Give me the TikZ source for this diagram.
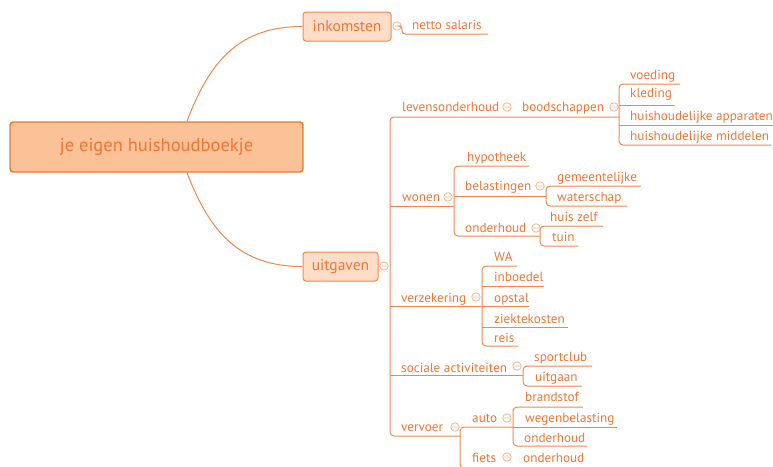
\documentclass[tikz,border=0pt]{standalone}
\usepackage{fontspec}
\setmainfont{PT Sans}
\usetikzlibrary{calc}
\definecolor{textc}{HTML}{EF7634}
\definecolor{linec}{HTML}{F3874A}
\definecolor{cfill}{HTML}{FBC197}
\definecolor{cborder}{HTML}{F0782F}
\definecolor{bfill}{HTML}{FEDDC8}
\definecolor{bborder}{HTML}{F28A4C}
\definecolor{collc}{HTML}{F6B995}
\newcommand\coll[2]{\draw[collc, line width=0.9pt] (#1,#2) circle (4.2) ++(-2.8,0) -- ++(5.6,0);}
\begin{document}
\begin{tikzpicture}[x=1pt, y=-1pt,
  lbl/.style={anchor=base west, inner sep=0pt, text=textc, font=\fontsize{13.2}{16}\selectfont},
  conn/.style={draw=linec, line width=1pt, rounded corners=4pt},
  topicbox/.style={draw=bborder, fill=bfill, line width=1pt, rounded corners=3pt, text=textc, font=\fontsize{15.5}{18}\selectfont, inner sep=0pt},
  rootbox/.style={draw=cborder, fill=cfill, line width=1.4pt, rounded corners=3pt, text=textc, font=\fontsize{18.5}{21}\selectfont, inner sep=0pt}]
\useasboundingbox (0,0) rectangle (773,466);
\clip (0,0) rectangle (773,466);
% main topics
\node[rootbox, minimum width=293pt, minimum height=50pt] (root) at (156.5,147) {je eigen huishoudboekje};
\node[topicbox, minimum width=88pt, minimum height=29pt] (ink) at (347,26.5) {inkomsten};
\node[topicbox, minimum width=75pt, minimum height=29pt] (uit) at (340.5,266.5) {uitgaven};
\draw[linec, line width=1pt] ($(root.north)+(30.5,0)$) .. controls (210,60) and (240,26.5) .. (ink.west);
\draw[linec, line width=1pt] ($(root.south)+(30.5,0)$) .. controls (210,233) and (240,266.5) .. (uit.west);
\coll{397}{26}
\coll{384}{266}
% inkomsten
\node[lbl] (netto) at (412,29.5) {netto salaris};
\coordinate (nettoend) at (488,34);
\draw[conn, rounded corners=3pt] (401,26) -- (402,26) |- (nettoend);
% main trunk
\draw[conn] (619,117) -- (390,117) -- (390,436) -- (460,436);
% levensonderhoud
\node[lbl] (lev) at (402,111) {levensonderhoud};
\coll{507}{107}
\node[lbl] (bood) at (522,111) {boodschappen};
\coll{614}{107}
\node[lbl] (voed) at (630,79) {voeding};
\node[lbl] (kled) at (630,97.5) {kleding};
\node[lbl] (app) at (630,120) {huishoudelijke apparaten};
\node[lbl] (mid) at (630,140) {huishoudelijke middelen};
\draw[conn] (680,84) -- (619,84) -- (619,145) -- (771,145);
\draw[conn] (619,105) -- (675,105);
\draw[conn] (619,125) -- (780,125);
% wonen
\node[lbl] (won) at (402,201) {wonen};
\coll{448}{197}
\draw[conn] (390,206) -- (454,206);
\draw[conn] (529,166) -- (454,166) -- (454,236) -- (540,236);
\node[lbl] (hyp) at (467,161) {hypotheek};
\node[lbl] (bel) at (465,190.5) {belastingen};
\coll{540}{186}
\draw[conn] (454,196) -- (546,196);
\draw[conn] (641,186) -- (546,186) -- (546,206) -- (627,206);
\node[lbl] (gem) at (557,181) {gemeentelijke};
\node[lbl] (wat) at (557,201) {waterschap};
\node[lbl] (ond) at (465,232) {onderhoud};
\coll{536}{228}
\draw[conn] (603,226) -- (540,226) -- (540,246) -- (578,246);
\node[lbl] (huis) at (550,221) {huis zelf};
\node[lbl] (tuin) at (552,241) {tuin};
% verzekering
\node[lbl] (ver) at (401,302) {verzekering};
\coll{476}{297}
\draw[conn] (390,306) -- (529,306);
\draw[conn] (517,266) -- (482,266) -- (482,346) -- (518,346);
\draw[conn] (482,286) -- (544,286);
\draw[conn] (482,327) -- (568,327);
\node[lbl] (wa) at (494,261) {WA};
\node[lbl] (inb) at (494,281) {inboedel};
\node[lbl] (ops) at (494,302) {opstal};
\node[lbl] (ziek) at (494,323) {ziektekosten};
\node[lbl] (reis) at (494,342) {reis};
% sociale activiteiten
\node[lbl] (soc) at (401,372) {sociale activiteiten};
\coll{517}{366}
\draw[conn] (390,375) -- (523,375);
\draw[conn] (592,366) -- (523,366) -- (523,386) -- (582,386);
\node[lbl] (sport) at (534,361) {sportclub};
\node[lbl] (uitg) at (535,381) {uitgaan};
% vervoer
\node[lbl] (vvr) at (401,431) {vervoer};
\coll{455}{427}
\draw[conn] (513,427) -- (460,427) -- (460,468) -- (530,468);
\node[lbl] (auto) at (472,422) {auto};
\coll{507}{418}
\draw[conn] (583,407) -- (513,407) -- (513,446) -- (587,446);
\draw[conn] (513,427) -- (617,427);
\node[lbl] (brand) at (525,401) {brandstof};
\node[lbl] (weg) at (525,422) {wegenbelasting};
\node[lbl] (ond2) at (524,442) {onderhoud};
\node[lbl] (fiets) at (472,462) {fiets};
\coll{507}{457}
\node[lbl] (ond3) at (523,462) {onderhoud};
\end{tikzpicture}
\end{document}
